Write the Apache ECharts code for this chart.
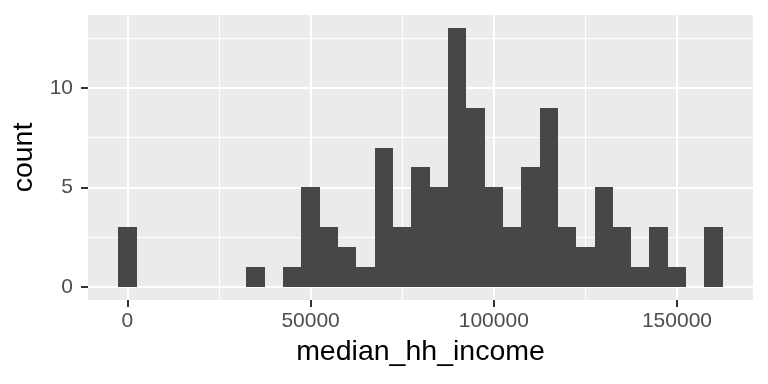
<!DOCTYPE html>
<html>
<head>
<meta charset="utf-8">
<script src="https://cdn.jsdelivr.net/npm/echarts@6/dist/echarts.min.js"></script>
<style>html,body{margin:0;padding:0;background:#fff;}#c{width:768px;height:384px;}</style>
</head>
<body>
<div id="c"></div>
<script>
// Histogram bins (centres) and counts
const binCenters = [0, 5000, 10000, 15000, 20000, 25000, 30000, 35000, 40000, 45000, 50000,
  55000, 60000, 65000, 70000, 75000, 80000, 85000, 90000, 95000, 100000,
  105000, 110000, 115000, 120000, 125000, 130000, 135000, 140000, 145000, 150000, 155000, 160000];
const counts = [3, 0, 0, 0, 0, 0, 0, 1, 0, 1, 5,
  3, 2, 1, 7, 3, 6, 5, 13, 9, 5,
  3, 6, 9, 3, 2, 5, 3, 1, 3, 1, 0, 3];
const binWidth = 5000;
const xMajorTicks = [0, 50000, 100000, 150000];
const xMinorTicks = [25000, 75000, 125000];
const yMajorTicks = [0, 5, 10];
const yMinorTicks = [2.5, 7.5, 12.5];
const xTitle = 'median_hh_income';
const yTitle = 'count';

const xMin = -10750, xMax = 170750, yMin = -0.65, yMax = 13.65;
const FONT = '"Liberation Sans", Arial, Helvetica, sans-serif';

const barData = binCenters.map((c, i) => [c - binWidth / 2, c + binWidth / 2, counts[i]]);

const chart = echarts.init(document.getElementById('c'), null, {renderer: 'canvas'});
chart.setOption({
  animation: false,
  grid: {left: 88, right: 15, top: 15, bottom: 84, show: true, backgroundColor: '#EBEBEB', borderWidth: 0},
  xAxis: [
    {
      type: 'value', min: xMin, max: xMax, gridIndex: 0, position: 'bottom',
      axisLine: {show: false, onZero: false},
      axisTick: {show: true, customValues: xMajorTicks, length: 7, lineStyle: {color: '#333333', width: 2}},
      axisLabel: {customValues: xMajorTicks, color: '#4D4D4D', fontSize: 21, fontFamily: FONT, margin: 11,
        formatter: v => String(v)},
      splitLine: {show: true, lineStyle: {color: '#FFFFFF', width: 2}},
      name: xTitle, nameLocation: 'middle', nameGap: 38,
      nameTextStyle: {color: '#000', fontSize: 28.5, fontFamily: FONT}
    },
    {
      type: 'value', min: xMin, max: xMax, gridIndex: 0, position: 'bottom',
      axisLine: {show: false, onZero: false},
      axisTick: {show: false, customValues: xMinorTicks},
      axisLabel: {show: false, customValues: xMinorTicks},
      splitLine: {show: true, lineStyle: {color: '#FFFFFF', width: 1}}
    }
  ],
  yAxis: [
    {
      type: 'value', min: yMin, max: yMax, gridIndex: 0, position: 'left',
      axisLine: {show: false, onZero: false},
      axisTick: {show: true, customValues: yMajorTicks, length: 7, lineStyle: {color: '#333333', width: 2}},
      axisLabel: {customValues: yMajorTicks, color: '#4D4D4D', fontSize: 21, fontFamily: FONT, margin: 15},
      splitLine: {show: true, lineStyle: {color: '#FFFFFF', width: 2}},
      name: yTitle, nameLocation: 'middle', nameGap: 48, nameRotate: 90,
      nameTextStyle: {color: '#000', fontSize: 28.5, fontFamily: FONT}
    },
    {
      type: 'value', min: yMin, max: yMax, gridIndex: 0, position: 'left',
      axisLine: {show: false, onZero: false},
      axisTick: {show: false, customValues: yMinorTicks},
      axisLabel: {show: false, customValues: yMinorTicks},
      splitLine: {show: true, lineStyle: {color: '#FFFFFF', width: 1}}
    }
  ],
  series: [{
    type: 'custom',
    xAxisIndex: 0, yAxisIndex: 0,
    data: barData,
    encode: {x: [0, 1], y: 2},
    renderItem: function (params, api) {
      if (!(api.value(2) > 0)) return null;
      const p0 = api.coord([api.value(0), 0]);
      const p1 = api.coord([api.value(1), api.value(2)]);
      const x0 = Math.round(p0[0]), x1 = Math.round(p1[0]);
      const yb = Math.round(p0[1]), yt = Math.round(p1[1]);
      return {
        type: 'rect',
        shape: {x: x0, y: yt, width: x1 - x0, height: yb - yt},
        style: {fill: '#474747'}
      };
    }
  }]
});
</script>
</body>
</html>
